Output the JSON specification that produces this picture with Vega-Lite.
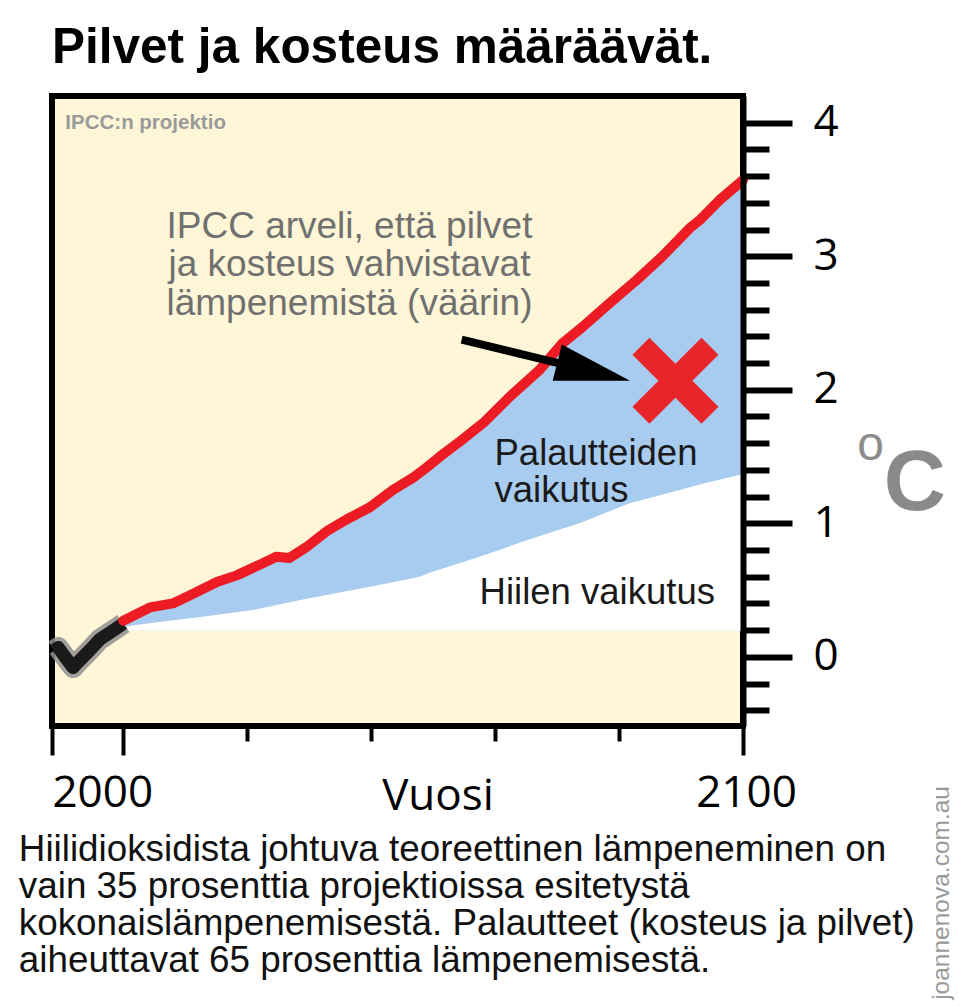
{
  "$schema": "https://vega.github.io/schema/vega-lite/v6.json",
  "width": 691,
  "height": 630,
  "autosize": {"type": "none"},
  "padding": {"left": 52, "top": 96, "right": 219, "bottom": 281},
  "background": "#ffffff",
  "title": {
    "text": "Pilvet ja kosteus määräävät.",
    "anchor": "start",
    "frame": "group",
    "font": "Liberation Sans",
    "fontSize": 49.5,
    "fontWeight": "bold",
    "color": "#000000",
    "baseline": "alphabetic",
    "offset": -16
  },
  "config": {
    "view": {"fill": "#FEF6D7", "stroke": "#000000", "strokeWidth": 6},
    "text": {"font": "Liberation Sans"}
  },
  "datasets": {
    "red": [
      {"year": 2000, "value": 0.27}, {"year": 2004.3, "value": 0.37}, {"year": 2008.0, "value": 0.40},
      {"year": 2010.7, "value": 0.46}, {"year": 2015.1, "value": 0.56}, {"year": 2018.3, "value": 0.61},
      {"year": 2022.0, "value": 0.69}, {"year": 2024.7, "value": 0.75}, {"year": 2026.8, "value": 0.74},
      {"year": 2029.5, "value": 0.82}, {"year": 2032.8, "value": 0.94}, {"year": 2036.1, "value": 1.03},
      {"year": 2039.8, "value": 1.12}, {"year": 2043.5, "value": 1.25}, {"year": 2046.7, "value": 1.34},
      {"year": 2049.0, "value": 1.42}, {"year": 2051.1, "value": 1.50}, {"year": 2054.8, "value": 1.63},
      {"year": 2058.3, "value": 1.76}, {"year": 2062.4, "value": 1.95}, {"year": 2067.2, "value": 2.15},
      {"year": 2070.9, "value": 2.35}, {"year": 2074.1, "value": 2.47}, {"year": 2078.5, "value": 2.65},
      {"year": 2082.8, "value": 2.82}, {"year": 2087.0, "value": 3.00}, {"year": 2091.4, "value": 3.21},
      {"year": 2093.0, "value": 3.27}, {"year": 2096.2, "value": 3.42}, {"year": 2100, "value": 3.57}
    ],
    "carbon": [
      {"year": 2000, "value": 0.225}, {"year": 2004.8, "value": 0.255}, {"year": 2012.8, "value": 0.30},
      {"year": 2020.9, "value": 0.35}, {"year": 2029.0, "value": 0.43}, {"year": 2037.0, "value": 0.50},
      {"year": 2042.5, "value": 0.55}, {"year": 2047.8, "value": 0.60}, {"year": 2049.4, "value": 0.63},
      {"year": 2057.5, "value": 0.75}, {"year": 2065.6, "value": 0.88}, {"year": 2073.6, "value": 1.00},
      {"year": 2081.7, "value": 1.15}, {"year": 2089.8, "value": 1.25}, {"year": 2093.0, "value": 1.29},
      {"year": 2100, "value": 1.37}
    ],
    "hist": [
      {"year": 1988.9, "value": 0.05}, {"year": 1989.5, "value": 0.07}, {"year": 1990.6, "value": 0.0},
      {"year": 1991.9, "value": -0.08}, {"year": 1992.7, "value": -0.04}, {"year": 1994.6, "value": 0.05},
      {"year": 1996.2, "value": 0.13}, {"year": 1997.8, "value": 0.18}, {"year": 1999.1, "value": 0.22},
      {"year": 2000, "value": 0.25}
    ],
    "arrow": [
      {"year": 2054.6, "value": 2.375}, {"year": 2071.0, "value": 2.19}
    ]
  },
  "encoding": {
    "x": {
      "field": "year",
      "type": "quantitative",
      "scale": {"domain": [1988.5, 2100], "nice": false, "zero": false},
      "axis": {
        "values": [1988.5, 2000, 2020, 2040, 2060, 2080, 2100],
        "domain": false,
        "grid": false,
        "tickColor": "#000000",
        "tickWidth": 4,
        "tickSize": {"condition": {"test": "datum.value == 2000 || datum.value == 2100 || datum.value < 1990", "value": 29}, "value": 15},
        "labelExpr": "datum.value == 2000 || datum.value == 2100 ? format(datum.value, 'd') : ''",
        "labelOffset": {"condition": {"test": "datum.value == 2000", "value": -21}, "value": 3},
        "labelFont": "Open Sans",
        "labelFontSize": 44,
        "labelColor": "#000000",
        "labelPadding": 16,
        "labelFlush": false,
        "labelOverlap": false,
        "title": "Vuosi",
        "titleFont": "Open Sans",
        "titleFontSize": 44,
        "titleFontWeight": "normal",
        "titleColor": "#000000",
        "titleX": 385.5,
        "titleY": 83,
        "titleAlign": "center",
        "titleBaseline": "alphabetic",
        "zindex": 1
      }
    },
    "y": {
      "field": "value",
      "type": "quantitative",
      "scale": {"domain": [-0.518, 4.2], "nice": false, "zero": false},
      "axis": {
        "orient": "right",
        "values": [-0.4, -0.2, 0, 0.2, 0.4, 0.6, 0.8, 1, 1.2, 1.4, 1.6, 1.8, 2, 2.2, 2.4, 2.6, 2.8, 3, 3.2, 3.4, 3.6, 3.8, 4],
        "domainColor": "#000000",
        "domainWidth": 6,
        "grid": false,
        "tickColor": "#000000",
        "tickWidth": 6,
        "tickSize": {"condition": {"test": "abs(datum.value - round(datum.value)) < 0.01", "value": 49}, "value": 26},
        "labelExpr": "abs(datum.value - round(datum.value)) < 0.01 ? format(datum.value, '.0f') : ''",
        "labelFont": "Open Sans",
        "labelFontSize": 44,
        "labelColor": "#000000",
        "labelAlign": "left",
        "labelBaseline": "middle",
        "labelPadding": 21,
        "labelFlush": false,
        "labelOverlap": false,
        "title": null,
        "zindex": 1
      }
    }
  },
  "layer": [
    {
      "data": {"name": "red"},
      "mark": {"type": "area", "color": "#A8CBF0"},
      "encoding": {"y2": {"datum": 0.195}}
    },
    {
      "data": {"name": "carbon"},
      "mark": {"type": "area", "color": "#FFFFFF"},
      "encoding": {"y2": {"datum": 0.195}}
    },
    {
      "data": {"values": [{}]},
      "mark": {"type": "rule", "color": "#8C8C8C", "strokeWidth": 3},
      "encoding": {"x": {"datum": 2000}, "x2": {"datum": 2100}, "y": {"datum": 0.195}}
    },
    {
      "data": {"values": [{}]},
      "mark": {"type": "rule", "color": "#8C8C8C", "strokeWidth": 3},
      "encoding": {"x": {"datum": 2000}, "y": {"datum": -0.518}, "y2": {"datum": 2.11}}
    },
    {
      "data": {"name": "hist"},
      "mark": {"type": "line", "color": "#8F8F8F", "strokeWidth": 21, "opacity": 0.85, "strokeJoin": "round"}
    },
    {
      "data": {"name": "hist"},
      "mark": {"type": "line", "color": "#1A1A1A", "strokeWidth": 13, "strokeJoin": "round"}
    },
    {
      "data": {"name": "red"},
      "mark": {"type": "line", "color": "#ED1C24", "strokeWidth": 10, "strokeJoin": "round", "strokeCap": "round"}
    },
    {
      "data": {"name": "arrow"},
      "mark": {"type": "line", "color": "#000000", "strokeWidth": 8}
    },
    {
      "data": {"values": [{"year": 2075.9, "value": 2.135}]},
      "mark": {"type": "point", "shape": "M-1,-0.5L1,0L-1,0.5Z", "size": 5625, "angle": 14, "filled": true, "color": "#000000", "opacity": 1}
    },
    {
      "data": {"values": [{"year": 2089.1, "value": 2.067}]},
      "mark": {"type": "point", "shape": "M-1,-1L1,1M-1,1L1,-1", "size": 4761, "filled": false, "stroke": "#E8262A", "strokeWidth": 24, "opacity": 1}
    },
    {
      "data": {"values": [{"label": "IPCC:n projektio", "year": 1990.65, "value": 3.955}]},
      "mark": {"type": "text", "align": "left", "baseline": "alphabetic", "fontSize": 20.5, "fontWeight": "bold", "color": "#9A9A9A"},
      "encoding": {"text": {"field": "label"}}
    },
    {
      "data": {"values": [{"label": "IPCC arveli, että pilvet\nja kosteus vahvistavat\nlämpenemistä (väärin)", "year": 2036.5, "value": 3.139}]},
      "mark": {"type": "text", "align": "center", "baseline": "alphabetic", "fontSize": 37, "lineHeight": 38.5, "lineBreak": "\n", "color": "#707070"},
      "encoding": {"text": {"field": "label"}}
    },
    {
      "data": {"values": [{"label": "Palautteiden\nvaikutus", "year": 2059.9, "value": 1.438}]},
      "mark": {"type": "text", "align": "left", "baseline": "alphabetic", "fontSize": 36.5, "lineHeight": 36.7, "lineBreak": "\n", "color": "#1A1A1A"},
      "encoding": {"text": {"field": "label"}}
    },
    {
      "data": {"values": [{"label": "Hiilen vaikutus", "year": 2057.5, "value": 0.397}]},
      "mark": {"type": "text", "align": "left", "baseline": "alphabetic", "fontSize": 36.5, "color": "#1A1A1A"},
      "encoding": {"text": {"field": "label"}}
    },
    {
      "data": {"values": [{"label": "o", "year": 2120.6, "value": 1.476}]},
      "mark": {"type": "text", "align": "center", "baseline": "alphabetic", "fontSize": 48, "color": "#8C8C8C"},
      "encoding": {"text": {"field": "label"}}
    },
    {
      "data": {"values": [{"label": "C", "year": 2122.7, "value": 1.101}]},
      "mark": {"type": "text", "align": "left", "baseline": "alphabetic", "fontSize": 86, "fontWeight": "bold", "color": "#8A8A8A"},
      "encoding": {"text": {"field": "label"}}
    },
    {
      "data": {"values": [{"label": "Hiilidioksidista johtuva teoreettinen lämpeneminen on\nvain 35 prosenttia projektioissa esitetystä\nkokonaislämpenemisestä. Palautteet (kosteus ja pilvet)\naiheuttavat 65 prosenttia lämpenemisestä.", "year": 1983.15, "value": -1.528}]},
      "mark": {"type": "text", "align": "left", "baseline": "alphabetic", "fontSize": 36.8, "lineHeight": 37, "lineBreak": "\n", "color": "#111111"},
      "encoding": {"text": {"field": "label"}}
    },
    {
      "data": {"values": [{"label": "joannenova.com.au", "year": 2133.3, "value": -2.569}]},
      "mark": {"type": "text", "align": "left", "baseline": "alphabetic", "angle": 270, "fontSize": 24.5, "color": "#9A9A9A"},
      "encoding": {"text": {"field": "label"}}
    }
  ]
}
